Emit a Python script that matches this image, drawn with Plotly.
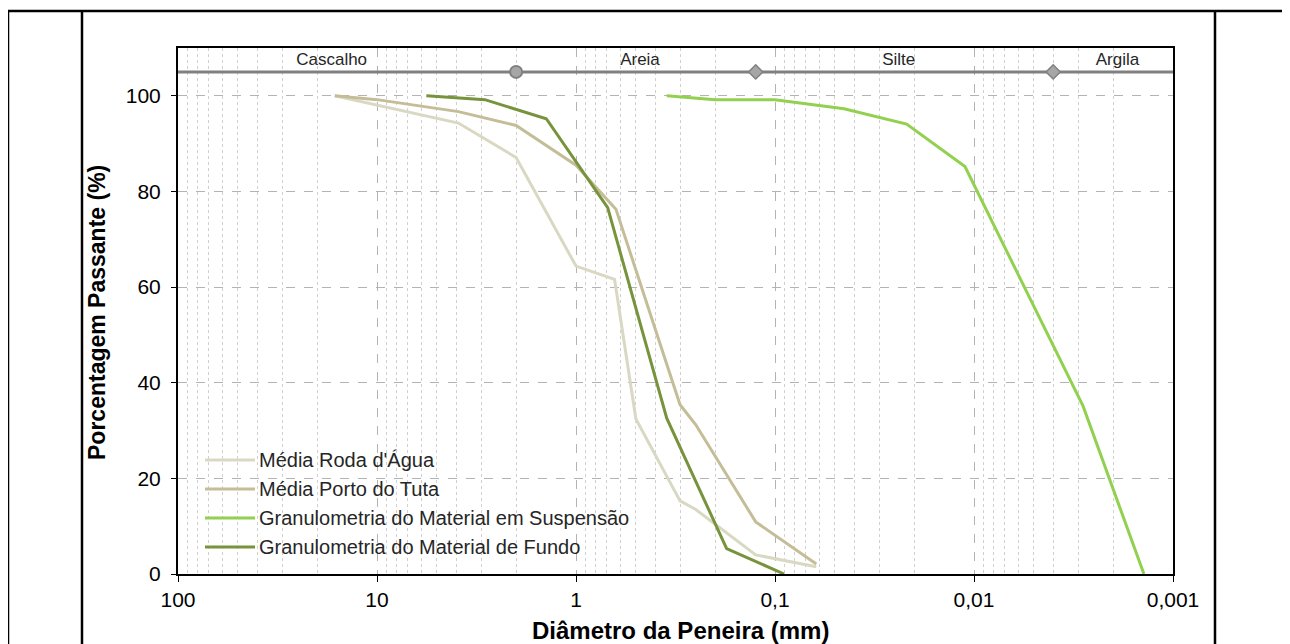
import plotly.graph_objects as go

# Granulometric curves (diameter in mm, % passing)
roda_diam = [16.3, 3.9, 2.0, 1.0, 0.64, 0.5, 0.3, 0.25, 0.125, 0.062]
roda_pass = [100, 94.3, 87.1, 64.4, 61.6, 32.4, 15.3, 13.5, 4.0, 1.5]

porto_diam = [16.3, 10.0, 3.9, 2.0, 1.0, 0.63, 0.3, 0.25, 0.125, 0.062]
porto_pass = [100, 99.2, 96.7, 93.8, 85.5, 76.3, 35.4, 31.2, 10.9, 2.1]

susp_diam = [0.35, 0.2, 0.1, 0.045, 0.0218, 0.0111, 0.00283, 0.0014]
susp_pass = [100, 99.2, 99.2, 97.3, 94.1, 85.2, 35.1, 0]

fundo_diam = [5.65, 2.87, 1.41, 0.693, 0.35, 0.175, 0.09]
fundo_pass = [100, 99.2, 95.2, 76.6, 32.6, 5.3, 0]

# classification band
class_line_x = [100, 2.0, 0.125, 0.004, 0.001]
class_label_x = [16.9, 0.477, 0.0239, 0.0019]
class_labels = ["Cascalho", "Areia", "Silte", "Argila"]
class_y = 105
label_y = 107.3

tick_vals = [100, 10, 1, 0.1, 0.01, 0.001]
tick_text = ["100", "10", "1", "0,1", "0,01", "0,001"]
minor_vals = [k * 10 ** e for e in range(-3, 2) for k in range(2, 10)]

FONT = "Liberation Sans, Arial, sans-serif"

# page geometry of the plot area (the page body adds an 8px margin)
BODY = 8
PLOT_L, PLOT_R, PLOT_T, PLOT_B = 178, 1173, 48, 574


def px_x(p):
    return (p - PLOT_L) / (PLOT_R - PLOT_L)


def px_y(p):
    return (PLOT_B - p) / (PLOT_B - PLOT_T)


fig = go.Figure()

series = [
    ("Média Roda d'Água", roda_diam, roda_pass, "#d9d9c3"),
    ("Média Porto do Tuta", porto_diam, porto_pass, "#c4bd97"),
    ("Granulometria do Material em Suspensão", susp_diam, susp_pass, "#92d050"),
    ("Granulometria do Material de Fundo", fundo_diam, fundo_pass, "#77933c"),
]
for name, x, y, col in series:
    fig.add_trace(go.Scatter(x=x, y=y, mode="lines", name=name,
                             line=dict(color=col, width=3), showlegend=False))

# classification line with boundary markers
fig.add_trace(go.Scatter(x=class_line_x, y=[class_y] * len(class_line_x), mode="lines",
                         line=dict(color="#808080", width=3), showlegend=False,
                         hoverinfo="skip"))
fig.add_trace(go.Scatter(x=[class_line_x[1]], y=[class_y], mode="markers",
                         marker=dict(symbol="circle", size=12, color="#a6a6a6",
                                     line=dict(color="#808080", width=2)),
                         showlegend=False))
fig.add_trace(go.Scatter(x=class_line_x[2:4], y=[class_y] * 2, mode="markers",
                         marker=dict(symbol="diamond", size=11, color="#a6a6a6",
                                     line=dict(color="#808080", width=1.5)),
                         showlegend=False))
fig.add_trace(go.Scatter(x=class_label_x, y=[label_y] * 4, mode="text", text=class_labels,
                         textfont=dict(family=FONT, size=17, color="#262626"),
                         showlegend=False))

# legend drawn by hand: longer line samples than plotly's own legend
legend_rows = [460, 489, 518, 547]
for (name, _, _, col), row in zip(series, legend_rows):
    fig.add_shape(type="line", xref="paper", yref="paper",
                  x0=px_x(205), x1=px_x(255), y0=px_y(row), y1=px_y(row),
                  line=dict(color=col, width=3))
    fig.add_annotation(text=name, xref="paper", yref="paper", x=px_x(257), y=px_y(row),
                       xanchor="left", yanchor="middle", showarrow=False,
                       font=dict(size=20, family=FONT, color="#262626"))

# outer frame lines of the figure/table
frame = dict(type="line", xref="paper", yref="paper", line=dict(color="black", width=2.5))
fig.add_shape(**frame, x0=px_x(8), x1=px_x(1290), y0=px_y(11), y1=px_y(11))
for xv in [8, 82, 1215]:
    fig.add_shape(**frame, x0=px_x(xv), x1=px_x(xv), y0=px_y(11), y1=px_y(660))

# axis titles placed as annotations
fig.add_annotation(text="<b>Diâmetro da Peneira (mm)</b>", xref="paper", yref="paper",
                   x=px_x(680), y=px_y(630), xanchor="center", yanchor="middle",
                   showarrow=False, font=dict(size=24, family=FONT, color="black"))
fig.add_annotation(text="<b>Porcentagem Passante (%)</b>", xref="paper", yref="paper",
                   x=px_x(97), y=px_y(313), xanchor="center", yanchor="middle",
                   textangle=-90, showarrow=False,
                   font=dict(size=23, family=FONT, color="black"))

fig.update_layout(
    width=1290 - BODY, height=644 - BODY,
    margin=dict(l=PLOT_L - BODY, r=1290 - PLOT_R, t=PLOT_T - BODY, b=644 - PLOT_B),
    paper_bgcolor="white", plot_bgcolor="white",
    font=dict(family=FONT, color="black"),
    showlegend=False,
    xaxis=dict(type="log", range=[2, -3], tickvals=tick_vals, ticktext=tick_text,
               ticks="outside", ticklen=6, tickcolor="black",
               showline=True, mirror=True, linecolor="black", linewidth=2,
               showgrid=True, gridcolor="#b3b3b3", griddash="dash", gridwidth=1.2,
               minor=dict(tickvals=minor_vals, showgrid=True, gridcolor="#d0d0d0",
                          griddash="dot", gridwidth=1),
               tickfont=dict(size=21), zeroline=False),
    yaxis=dict(range=[0, 110], tickvals=[0, 20, 40, 60, 80, 100],
               ticks="outside", ticklen=5, tickcolor="black",
               showline=True, mirror=True, linecolor="black", linewidth=2,
               showgrid=True, gridcolor="#b3b3b3", griddash="dash", gridwidth=1.2,
               tickfont=dict(size=21), zeroline=False, ticklabelstandoff=6),
)

fig.write_html("out.html")
